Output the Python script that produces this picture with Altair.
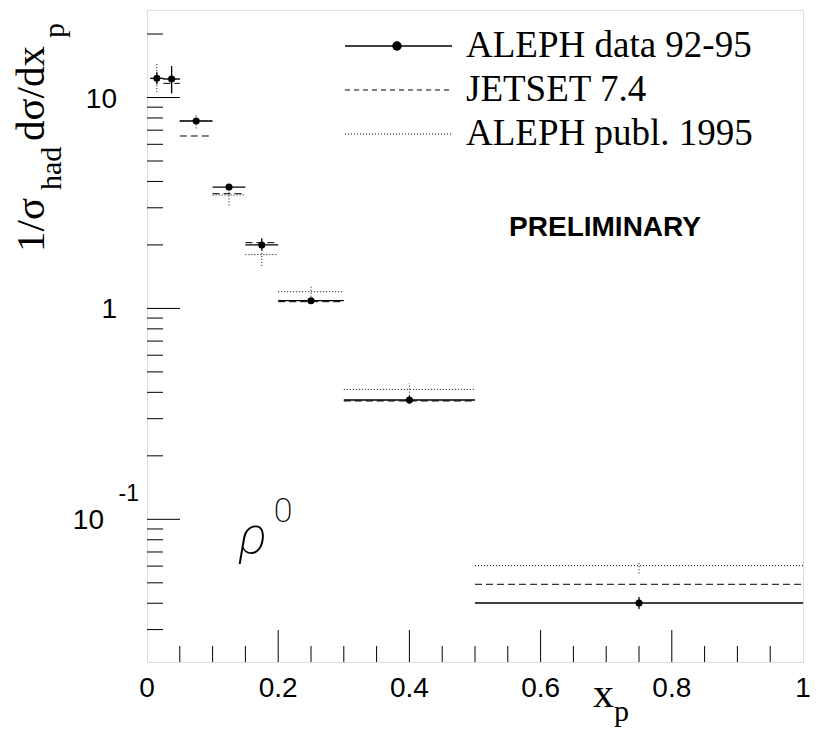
import altair as alt
import pandas as pd

# ---- data ----
x_lo = [0.005, 0.025, 0.05, 0.10, 0.15, 0.20, 0.30, 0.50]
x_hi = [0.025, 0.05, 0.10, 0.15, 0.20, 0.30, 0.50, 1.00]
x_c = [0.015, 0.0375, 0.075, 0.125, 0.175, 0.25, 0.40, 0.75]
data_val = [12.33, 12.24, 7.74, 3.76, 2.00, 1.088, 0.368, 0.0401]
data_lo = [11.55, 10.47, 7.50, 3.64, 1.89, 1.065, 0.352, 0.0376]
data_hi = [13.17, 14.10, 8.00, 3.89, 2.15, 1.110, 0.385, 0.0428]
jetset = [12.30, 11.67, 6.57, 3.50, 2.05, 1.076, 0.364, 0.0492]
publ = [12.30, 12.24, 7.74, 3.45, 1.80, 1.20, 0.413, 0.0603]
publ_lo = [10.60, 10.47, 7.14, 3.08, 1.59, 1.137, 0.386, 0.0555]
publ_hi = [14.40, 14.10, 8.32, 3.64, 2.02, 1.29, 0.442, 0.0625]

y_major = [0.1, 1, 10]
y_minor = [0.03, 0.04, 0.05, 0.06, 0.07, 0.08, 0.09,
           0.2, 0.3, 0.4, 0.5, 0.6, 0.7, 0.8, 0.9,
           2, 3, 4, 5, 6, 7, 8, 9, 20]
x_major = [0.2, 0.4, 0.6, 0.8]
x_minor = [0.05, 0.1, 0.15, 0.25, 0.3, 0.35, 0.45, 0.5, 0.55,
           0.65, 0.7, 0.75, 0.85, 0.9, 0.95]
x_tick_vals = [0, 0.2, 0.4, 0.6, 0.8, 1]
x_tick_text = ["0", "0.2", "0.4", "0.6", "0.8", "1"]
y_tick_vals = [1, 10]
y_tick_text = ["1", "10"]

legend_labels = ["ALEPH data 92-95", "JETSET 7.4", "ALEPH publ. 1995"]

df = pd.DataFrame(dict(x_lo=x_lo, x_hi=x_hi, x_c=x_c, val=data_val, lo=data_lo,
                       hi=data_hi, jet=jetset, pub=publ, pub_lo=publ_lo, pub_hi=publ_hi))

W, H = 656, 652
SERIF = "Liberation Serif"
SANS = "Liberation Sans"

xs = alt.Scale(domain=[0, 1], nice=False, zero=False)
ys = alt.Scale(type="log", domain=[0.02106, 26.0], nice=False)

base = alt.Chart(df)

# data: bin bars, error bars, points
data_bars = base.mark_rule(color="black", strokeWidth=1.3).encode(
    x=alt.X("x_lo:Q", scale=xs, axis=None), x2="x_hi:Q",
    y=alt.Y("val:Q", scale=ys, axis=None))
data_err = base.mark_rule(color="black", strokeWidth=1.3).encode(
    x=alt.X("x_c:Q", scale=xs, axis=None),
    y=alt.Y("lo:Q", scale=ys, axis=None), y2="hi:Q")
data_pts = base.mark_point(filled=True, color="black", size=50, opacity=1).encode(
    x=alt.X("x_c:Q", scale=xs, axis=None),
    y=alt.Y("val:Q", scale=ys, axis=None))

# JETSET dashed
jet_bars = base.mark_rule(color="black", strokeWidth=1, strokeDash=[7, 4]).encode(
    x=alt.X("x_lo:Q", scale=xs, axis=None), x2="x_hi:Q",
    y=alt.Y("jet:Q", scale=ys, axis=None))

# ALEPH publ. 1995 dotted
pub_bars = base.mark_rule(color="black", strokeWidth=1, strokeDash=[1, 2]).encode(
    x=alt.X("x_lo:Q", scale=xs, axis=None), x2="x_hi:Q",
    y=alt.Y("pub:Q", scale=ys, axis=None))
pub_err = base.mark_rule(color="black", strokeWidth=1, strokeDash=[1, 2]).encode(
    x=alt.X("x_c:Q", scale=xs, axis=None),
    y=alt.Y("pub_lo:Q", scale=ys, axis=None), y2="pub_hi:Q")

# inward ticks
ymaj = alt.Chart(pd.DataFrame({"v": y_major})).mark_rule(color="black", strokeWidth=1).encode(
    y=alt.Y("v:Q", scale=ys, axis=None), x=alt.value(0), x2=alt.value(33))
ymin = alt.Chart(pd.DataFrame({"v": y_minor})).mark_rule(color="black", strokeWidth=1).encode(
    y=alt.Y("v:Q", scale=ys, axis=None), x=alt.value(0), x2=alt.value(16))
xmaj = alt.Chart(pd.DataFrame({"v": x_major})).mark_rule(color="black", strokeWidth=1).encode(
    x=alt.X("v:Q", scale=xs, axis=None), y=alt.value(H), y2=alt.value(H - 32))
xmin = alt.Chart(pd.DataFrame({"v": x_minor})).mark_rule(color="black", strokeWidth=1).encode(
    x=alt.X("v:Q", scale=xs, axis=None), y=alt.value(H), y2=alt.value(H - 16))

# tick labels
xlab = alt.Chart(pd.DataFrame({"v": x_tick_vals, "t": x_tick_text})).mark_text(
    font=SANS, fontSize=28, align="center", baseline="top", color="black").encode(
    x=alt.X("v:Q", scale=xs, axis=None), y=alt.value(H + 13), text="t:N")
ylab = alt.Chart(pd.DataFrame({"v": y_tick_vals, "t": y_tick_text})).mark_text(
    font=SANS, fontSize=28, align="right", baseline="middle", color="black", dy=2).encode(
    y=alt.Y("v:Q", scale=ys, axis=None), x=alt.value(-30), text="t:N")

# 10^-1 label
exp_df = pd.DataFrame({"v": [0.1], "m": ["10"], "e": ["-1"]})
exp_m = alt.Chart(exp_df).mark_text(font=SANS, fontSize=28, align="right", baseline="middle",
                                    color="black", dy=2).encode(
    y=alt.Y("v:Q", scale=ys, axis=None), x=alt.value(-43), text="m:N")
exp_e = alt.Chart(exp_df).mark_text(font=SANS, fontSize=23, align="right", baseline="middle",
                                    color="black", dy=-25).encode(
    y=alt.Y("v:Q", scale=ys, axis=None), x=alt.value(-8), text="e:N")

def txt(s, x, y, size, font=SERIF, angle=0, align="left", baseline="alphabetic",
        weight="normal", style="normal"):
    kw = dict(font=font, fontSize=size, align=align, baseline=baseline, color="black",
              fontWeight=weight, fontStyle=style)
    if angle:
        kw["angle"] = angle
    return alt.Chart(pd.DataFrame({"t": [s]})).mark_text(**kw).encode(
        text="t:N", x=alt.value(x), y=alt.value(y))

# y title: 1/σ_had dσ/dx_p (rotated)
ytitle = [
    txt("1/σ", -103, 242, 41, angle=270),
    txt("had", -86, 180, 30, angle=270),
    txt("dσ/dx", -103, 131, 41, angle=270),
    txt("p", -83, 28, 30, angle=270),
]
# x title
xtitle = [txt("x", 446, 697, 42), txt("p", 467, 711, 30)]

# legend
leg_y = [36, 80, 124]
leg = [
    alt.Chart(pd.DataFrame({"a": [0]})).mark_rule(color="black", strokeWidth=1.3).encode(
        x=alt.value(198), x2=alt.value(305), y=alt.value(leg_y[0])),
    alt.Chart(pd.DataFrame({"a": [0]})).mark_point(filled=True, color="black", size=90, opacity=1).encode(
        x=alt.value(250), y=alt.value(leg_y[0])),
    alt.Chart(pd.DataFrame({"a": [0]})).mark_rule(color="black", strokeWidth=1, strokeDash=[5, 4]).encode(
        x=alt.value(198), x2=alt.value(305), y=alt.value(leg_y[1])),
    alt.Chart(pd.DataFrame({"a": [0]})).mark_rule(color="black", strokeWidth=1, strokeDash=[1, 2]).encode(
        x=alt.value(198), x2=alt.value(305), y=alt.value(leg_y[2])),
]
leg += [txt(s, 319, yy, 37, baseline="middle") for s, yy in zip(legend_labels, leg_y)]

prelim = txt("PRELIMINARY", 458, 218, 28, font=SANS, align="center", baseline="middle", weight="bold")
rho = txt("ρ", 106, 543, 52, font="Roboto", align="center", weight=200, style="italic")
rho0 = txt("0", 136, 512, 34, font="Roboto", align="center", weight=200)

chart = alt.layer(
    data_bars, data_err, data_pts, jet_bars, pub_bars, pub_err,
    ymaj, ymin, xmaj, xmin, xlab, ylab, exp_m, exp_e,
    *ytitle, *xtitle, *leg, prelim, rho, rho0,
).properties(
    width=W, height=H,
    autosize=alt.AutoSizeParams(type="none"),
    padding={"left": 139, "top": 2, "right": 8, "bottom": 68},
).configure_view(stroke="black", strokeWidth=1).configure(background="white")

chart.save("out.html", embed_options={"renderer": "svg", "actions": False})
